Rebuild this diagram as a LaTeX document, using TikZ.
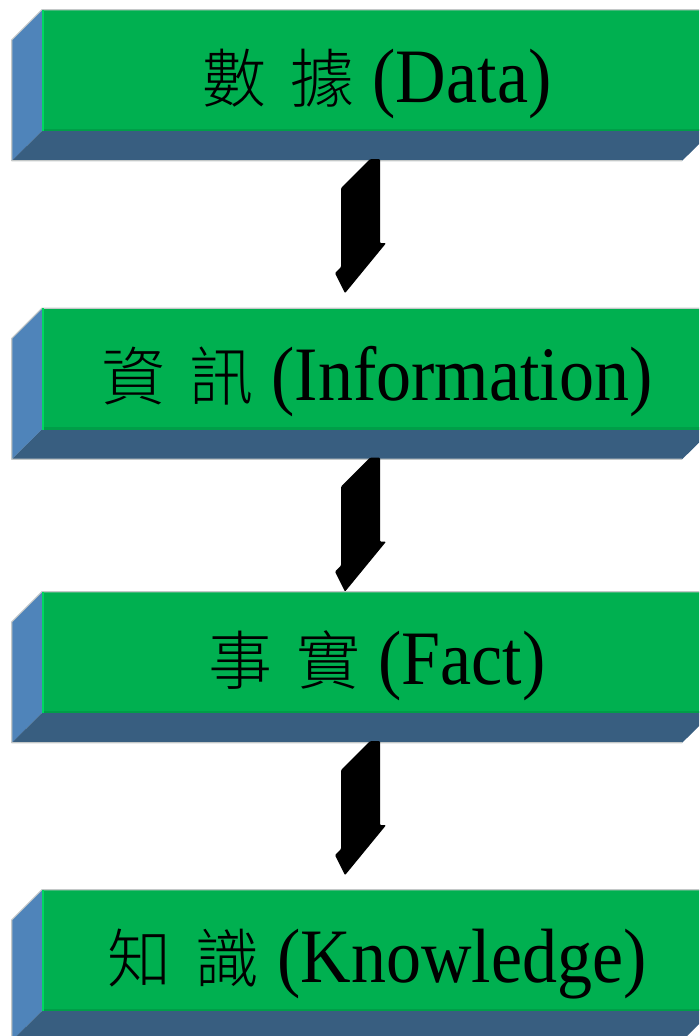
\documentclass[tikz,border=0pt]{standalone}
\usepackage{fontspec}
\usepackage{graphicx}
\setmainfont{Liberation Serif}
\newfontfamily\cjk{Noto Sans CJK TC Light}
\usetikzlibrary{calc}

\definecolor{facegreen}{RGB}{0,176,80}
\definecolor{sideblue}{RGB}{79,132,186}
\definecolor{bottomblue}{RGB}{56,94,128}
\definecolor{edgegreen}{RGB}{0,214,96}
\definecolor{shadegreen}{RGB}{0,158,72}
\definecolor{rimgray}{RGB}{196,200,200}

% two Chinese characters followed by the English term
\newcommand\steplabel[3]{%
  {\cjk\fontsize{64pt}{64pt}\selectfont #1}\hspace{24pt}%
  {\cjk\fontsize{64pt}{64pt}\selectfont #2}\hspace{18pt}%
  \scalebox{1}[1.1]{\fontsize{70pt}{70pt}\selectfont #3}}

\tikzset{
  stepbox/.style={fill=facegreen, minimum width=670pt, minimum height=121pt,
    inner sep=0pt, text height=70pt, text depth=7pt, anchor=center},
  sideface/.style={fill=sideblue},
  bottomface/.style={fill=bottomblue},
  rim/.style={draw=rimgray, line width=1.2pt, line join=round},
  blockarrow/.style={fill=black, rounded corners=1pt}
}

% extruded sides of a box node
\newcommand\boxsides[1]{%
  \fill[sideface] (#1.north west) -- (#1.south west) -- ++(-30,29.5)
    -- ($(#1.north west)+(-30,30)$) -- cycle;
  \fill[bottomface] (#1.south west) -- (#1.south east) -- ++(-30,29.5)
    -- ($(#1.south west)+(-30,29.5)$) -- cycle;
  \draw[rim] (#1.north east) -- (#1.north west) -- ++(-30,30)
    -- ($(#1.south west)+(-30,29.5)$) -- ($(#1.south east)+(-30,29.5)$);
  \draw[edgegreen, line width=2pt] ([xshift=1pt]#1.north west) -- ([xshift=1pt]#1.south west);
  \draw[shadegreen, line width=2.5pt] ([xshift=2pt,yshift=1.25pt]#1.south west) -- ([yshift=1.25pt]#1.south east);
}

% black extruded arrow hanging below a box node
\newcommand\steparrow[1]{%
  \begin{scope}[shift={(#1.south)}]
    \fill[blockarrow] (-7,28) -- (3,28) -- (3,112) -- (9,112) -- (-32,162)
      -- (-42,142) -- (-36,136) -- (-36,57) -- cycle;
  \end{scope}
}

\begin{document}
\begin{tikzpicture}[x=1pt, y=-1pt]
  \useasboundingbox (0,0) rectangle (699,1036);
  \clip (0,0) rectangle (699,1036);

  \node[stepbox] (data) at (377,70.5) {\steplabel{數}{據}{(Data)}};
  \node[stepbox] (info) at (377,369)  {\steplabel{資}{訊}{(Information)}};
  \node[stepbox] (fact) at (377,652.5) {\steplabel{事}{實}{(Fact)}};
  \node[stepbox] (know) at (377,950.5) {\steplabel{知}{識}{(Knowledge)}};

  \boxsides{data}
  \boxsides{info}
  \boxsides{fact}
  \boxsides{know}

  \steparrow{data}
  \steparrow{info}
  \steparrow{fact}
\end{tikzpicture}
\end{document}
